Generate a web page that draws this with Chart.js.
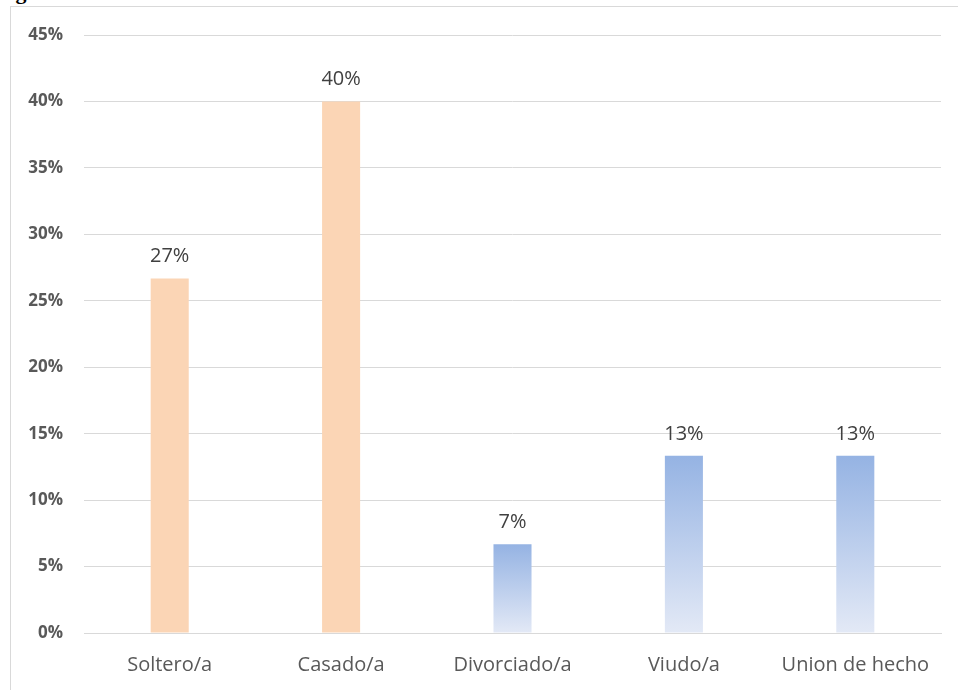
<!DOCTYPE html>
<html>
<head>
<meta charset="utf-8">
<script src="https://cdn.jsdelivr.net/npm/chart.js@4"></script>
<style>
    html, body { margin: 0; padding: 0; background: #ffffff; overflow: hidden; }
    body { width: 958px; height: 690px; position: relative; }
    #caption {
        position: absolute; left: -4px; top: -21px;
        font: bold 22px "Liberation Serif", serif; color: #000;
        white-space: nowrap;
    }
    #frame {
        position: absolute; left: 10px; top: 6px; width: 960px; height: 700px;
        border: 1px solid #d9d9d9; background: #ffffff;
    }
    #wrap { position: absolute; left: 0; top: 0; width: 958px; height: 690px; }
</style>
</head>
<body>
<div id="caption">Figura 1. Estado civil</div>
<div id="frame"></div>
<div id="wrap"><canvas id="chart"></canvas></div>
<script>
// datos de la gráfica
const categories = ["Soltero/a", "Casado/a", "Divorciado/a", "Viudo/a", "Union de hecho"];
const percentages = [26.67, 40.0, 6.67, 13.33, 13.33];
const valueLabels = ["27%", "40%", "7%", "13%", "13%"];
const yTicks = [0, 5, 10, 15, 20, 25, 30, 35, 40, 45];

const orange = "#fbd5b5";
const blueTop = "#95b3e3";
const blueBottom = "#e3e9f6";

// rellenos: naranja sólido para los dos primeros, degradado azul para el resto
function barFill(ctx) {
    if (ctx.dataIndex < 2) return orange;
    const chart = ctx.chart;
    const y = chart.scales && chart.scales.y;
    if (!chart.chartArea || !y) return blueTop;
    const top = y.getPixelForValue(percentages[ctx.dataIndex]);
    const base = y.getPixelForValue(0);
    const g = chart.ctx.createLinearGradient(0, top, 0, base);
    g.addColorStop(0, blueTop);
    g.addColorStop(1, blueBottom);
    return g;
}

// etiquetas de valor sobre cada barra
const valueLabelPlugin = {
    id: "valueLabels",
    afterDatasetsDraw(chart) {
        const ctx = chart.ctx;
        const meta = chart.getDatasetMeta(0);
        ctx.save();
        ctx.font = "20px 'Open Sans'";
        ctx.fillStyle = "#404040";
        ctx.textAlign = "center";
        ctx.textBaseline = "bottom";
        meta.data.forEach((bar, i) => {
            ctx.fillText(valueLabels[i], bar.x, bar.y - 12);
        });
        ctx.restore();
    }
};

new Chart(document.getElementById("chart"), {
    type: "bar",
    data: {
        labels: categories,
        datasets: [{
            data: percentages,
            backgroundColor: barFill,
            borderWidth: 0,
            barPercentage: 0.222,
            categoryPercentage: 1.0
        }]
    },
    options: {
        responsive: true,
        maintainAspectRatio: false,
        animation: false,
        layout: {
            padding: { left: 0, right: 17, top: 35, bottom: 0 }
        },
        plugins: {
            legend: { display: false },
            tooltip: { enabled: false }
        },
        scales: {
            x: {
                grid: { display: false, drawTicks: false },
                border: { color: "#d9d9d9", width: 1 },
                ticks: {
                    color: "#595959",
                    padding: 20,
                    font: { family: "'Open Sans'", size: 20 }
                },
                afterFit(scale) { scale.height = 57; }
            },
            y: {
                min: 0,
                max: 45,
                afterBuildTicks(scale) {
                    scale.ticks = yTicks.map(v => ({ value: v }));
                },
                grid: { color: "#d9d9d9", drawTicks: false },
                border: { display: false },
                ticks: {
                    color: "#595959",
                    padding: 21,
                    font: { family: "'Open Sans'", size: 17, weight: "bold" },
                    callback: v => v + "%"
                },
                afterFit(scale) { scale.width = 84; }
            }
        }
    },
    plugins: [valueLabelPlugin]
});
</script>
</body>
</html>
